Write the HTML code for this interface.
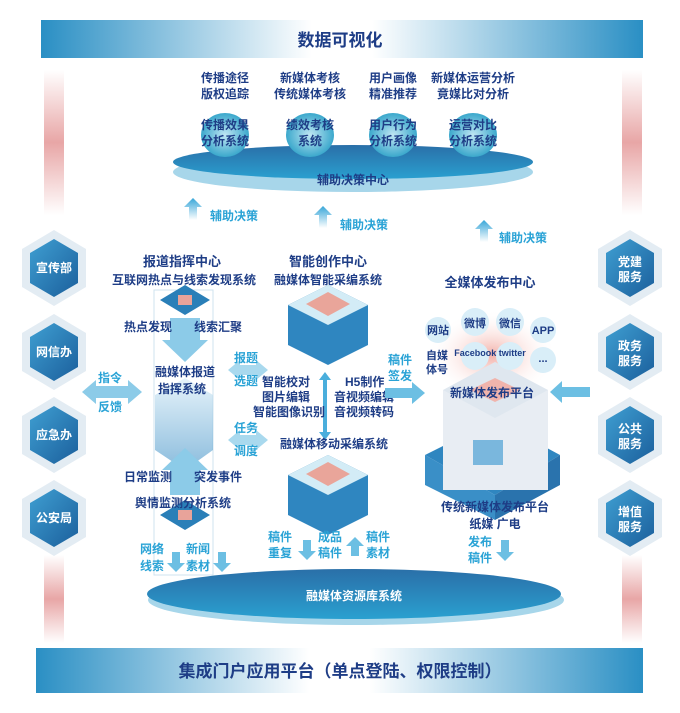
<!DOCTYPE html>
<html><head><meta charset="utf-8"><style>
html,body{margin:0;padding:0;background:#fff;width:680px;height:713px;overflow:hidden}
svg{display:block}
text{font-family:"Liberation Sans","Noto Sans CJK SC",sans-serif;font-weight:bold}
.d{fill:#1e3d86;font-size:12px}
.c{fill:#2aa3d6;font-size:12px}
.w{fill:#fff;font-size:12px}
</style></head><body>
<svg width="680" height="713" viewBox="0 0 680 713">
<defs>
<linearGradient id="bar" x1="0" x2="1"><stop offset="0" stop-color="#2a8fc4"/><stop offset=".45" stop-color="#fff"/><stop offset=".55" stop-color="#fff"/><stop offset="1" stop-color="#2a8fc4"/></linearGradient>
<linearGradient id="pink" x1="0" y1="0" x2="0" y2="1"><stop offset="0" stop-color="#fff"/><stop offset=".5" stop-color="#e8a6a6"/><stop offset="1" stop-color="#fff"/></linearGradient>
<linearGradient id="hex" x1="0" y1="0" x2="1" y2="1"><stop offset="0" stop-color="#3f9fd2"/><stop offset="1" stop-color="#1b5f9c"/></linearGradient>
<radialGradient id="ball"><stop offset="0" stop-color="#bfe6f3"/><stop offset="1" stop-color="#3ba8cc"/></radialGradient>
<linearGradient id="disk" x1="0" y1="0" x2="0" y2="1"><stop offset="0" stop-color="#2a6fa8"/><stop offset="1" stop-color="#2aa0d0"/></linearGradient>
<linearGradient id="arr" x1="0" y1="1" x2="0" y2="0"><stop offset="0" stop-color="#fff"/><stop offset="1" stop-color="#37a6d8"/></linearGradient>
<linearGradient id="cube" x1="0" y1="0" x2="0" y2="1"><stop offset="0" stop-color="#d7ecf7"/><stop offset="1" stop-color="#3c8fc6"/></linearGradient>
<radialGradient id="glow"><stop offset="0" stop-color="#f3b0a8"/><stop offset="1" stop-color="#fff" stop-opacity="0"/></radialGradient>
</defs>
<!-- bars -->
<rect x="41" y="20" width="602" height="38" fill="url(#bar)"/>
<text x="340" y="46" text-anchor="middle" style="font-size:17px;fill:#1e3d86">数据可视化</text>
<rect x="36" y="648" width="607" height="45" fill="url(#bar)"/>
<text x="340" y="677" text-anchor="middle" style="font-size:17px;fill:#1e3d86">集成门户应用平台（单点登陆、权限控制）</text>
<rect x="44" y="70" width="20" height="145" fill="url(#pink)"/>
<rect x="44" y="555" width="20" height="88" fill="url(#pink)"/>
<rect x="622" y="70" width="20" height="145" fill="url(#pink)"/>
<rect x="622" y="555" width="20" height="88" fill="url(#pink)"/>
<!-- hexagons -->
<g id="hexes">
<g transform="translate(54,268)"><polygon points="0,-38 32,-19 32,19 0,38 -32,19 -32,-19" fill="#e3ecf3"/><polygon points="0,-29 24,-15 24,15 0,29 -24,15 -24,-15" fill="url(#hex)"/><text class="w" y="4" text-anchor="middle">宣传部</text></g>
<g transform="translate(54,352)"><polygon points="0,-38 32,-19 32,19 0,38 -32,19 -32,-19" fill="#e3ecf3"/><polygon points="0,-29 24,-15 24,15 0,29 -24,15 -24,-15" fill="url(#hex)"/><text class="w" y="4" text-anchor="middle">网信办</text></g>
<g transform="translate(54,435)"><polygon points="0,-38 32,-19 32,19 0,38 -32,19 -32,-19" fill="#e3ecf3"/><polygon points="0,-29 24,-15 24,15 0,29 -24,15 -24,-15" fill="url(#hex)"/><text class="w" y="4" text-anchor="middle">应急办</text></g>
<g transform="translate(54,518)"><polygon points="0,-38 32,-19 32,19 0,38 -32,19 -32,-19" fill="#e3ecf3"/><polygon points="0,-29 24,-15 24,15 0,29 -24,15 -24,-15" fill="url(#hex)"/><text class="w" y="4" text-anchor="middle">公安局</text></g>
<g transform="translate(630,268)"><polygon points="0,-38 32,-19 32,19 0,38 -32,19 -32,-19" fill="#e3ecf3"/><polygon points="0,-29 24,-15 24,15 0,29 -24,15 -24,-15" fill="url(#hex)"/><text class="w" y="-2" text-anchor="middle">党建</text><text class="w" y="13" text-anchor="middle">服务</text></g>
<g transform="translate(630,352)"><polygon points="0,-38 32,-19 32,19 0,38 -32,19 -32,-19" fill="#e3ecf3"/><polygon points="0,-29 24,-15 24,15 0,29 -24,15 -24,-15" fill="url(#hex)"/><text class="w" y="-2" text-anchor="middle">政务</text><text class="w" y="13" text-anchor="middle">服务</text></g>
<g transform="translate(630,435)"><polygon points="0,-38 32,-19 32,19 0,38 -32,19 -32,-19" fill="#e3ecf3"/><polygon points="0,-29 24,-15 24,15 0,29 -24,15 -24,-15" fill="url(#hex)"/><text class="w" y="-2" text-anchor="middle">公共</text><text class="w" y="13" text-anchor="middle">服务</text></g>
<g transform="translate(630,518)"><polygon points="0,-38 32,-19 32,19 0,38 -32,19 -32,-19" fill="#e3ecf3"/><polygon points="0,-29 24,-15 24,15 0,29 -24,15 -24,-15" fill="url(#hex)"/><text class="w" y="-2" text-anchor="middle">增值</text><text class="w" y="13" text-anchor="middle">服务</text></g>
</g>
<!-- top text -->
<g class="d" text-anchor="middle">
<text class="d" x="225" y="82">传播途径</text><text class="d" x="225" y="98">版权追踪</text>
<text class="d" x="310" y="82">新媒体考核</text><text class="d" x="310" y="98">传统媒体考核</text>
<text class="d" x="393" y="82">用户画像</text><text class="d" x="393" y="98">精准推荐</text>
<text class="d" x="473" y="82">新媒体运营分析</text><text class="d" x="473" y="98">竟媒比对分析</text>
</g>
<ellipse cx="353" cy="172" rx="180" ry="20" fill="#a7d6ea"/>
<ellipse cx="353" cy="162" rx="180" ry="17" fill="url(#disk)"/>
<ellipse cx="225" cy="135" rx="24" ry="22" fill="url(#ball)"/>
<ellipse cx="310" cy="135" rx="24" ry="22" fill="url(#ball)"/>
<ellipse cx="393" cy="135" rx="24" ry="22" fill="url(#ball)"/>
<ellipse cx="473" cy="135" rx="24" ry="22" fill="url(#ball)"/>
<g text-anchor="middle">
<text class="d" x="225" y="129">传播效果</text><text class="d" x="225" y="145">分析系统</text>
<text class="d" x="310" y="129">绩效考核</text><text class="d" x="310" y="145">系统</text>
<text class="d" x="393" y="129">用户行为</text><text class="d" x="393" y="145">分析系统</text>
<text class="d" x="473" y="129">运营对比</text><text class="d" x="473" y="145">分析系统</text>
<text class="d" x="353" y="184">辅助决策中心</text>
</g>
<!-- up arrows -->
<polygon points="193,198 202,207 197,207 197,220 189,220 189,207 184,207" fill="url(#arr)"/><text class="c" x="210" y="220">辅助决策</text>
<polygon points="323,206 332,215 327,215 327,228 319,228 319,215 314,215" fill="url(#arr)"/><text class="c" x="340" y="229">辅助决策</text>
<polygon points="484,220 493,229 488,229 488,242 480,242 480,229 475,229" fill="url(#arr)"/><text class="c" x="499" y="242">辅助决策</text>
<!-- middle headings -->
<g text-anchor="middle">
<text class="d" x="182" y="266" style="font-size:13px">报道指挥中心</text>
<text class="d" x="184" y="284">互联网热点与线索发现系统</text>
<text class="d" x="328" y="266" style="font-size:13px">智能创作中心</text>
<text class="d" x="328" y="284">融媒体智能采编系统</text>
<text class="d" x="490" y="287" style="font-size:13px">全媒体发布中心</text>
</g>
<!-- left column -->
<rect x="154" y="290" width="59" height="285" fill="none" stroke="#cfe3ef"/>
<polygon points="185,285 210,300 185,315 160,300" fill="#2a7fb8"/><rect x="178" y="295" width="14" height="10" fill="#e8a39a" transform="rotate(0)"/>
<polygon points="185,500 210,515 185,530 160,515" fill="#2a7fb8"/><rect x="178" y="510" width="14" height="10" fill="#e8a39a"/>
<polygon points="170,318 200,318 200,340 208,340 185,362 162,340 170,340" fill="#8ccbe8"/>
<polygon points="155,395 185,378 213,395 213,450 185,470 155,450" fill="url(#cube)" opacity=".6"/>
<polygon points="185,448 208,470 200,470 200,495 170,495 170,470 162,470" fill="#8ccbe8"/>
<text class="d" x="148" y="331" text-anchor="middle">热点发现</text><text class="d" x="218" y="331" text-anchor="middle">线索汇聚</text>
<text class="d" x="185" y="376" text-anchor="middle">融媒体报道</text><text class="d" x="182" y="393" text-anchor="middle">指挥系统</text>
<text class="d" x="148" y="481" text-anchor="middle">日常监测</text><text class="d" x="218" y="481" text-anchor="middle">突发事件</text>
<text class="d" x="183" y="507" text-anchor="middle">舆情监测分析系统</text>
<!-- lr arrows -->
<polygon points="82,392 96,380 96,386 128,386 128,380 142,392 128,404 128,398 96,398 96,404" fill="#8ccbe8"/>
<text class="c" x="110" y="382" text-anchor="middle">指令</text><text class="c" x="110" y="411" text-anchor="middle">反馈</text>
<polygon points="228,370 240,360 240,365 256,365 256,360 268,370 256,380 256,375 240,375 240,380" fill="#a9d9ee"/>
<text class="c" x="246" y="362" text-anchor="middle">报题</text><text class="c" x="246" y="385" text-anchor="middle">选题</text>
<polygon points="228,440 240,430 240,435 256,435 256,430 268,440 256,450 256,445 240,445 240,450" fill="#a9d9ee"/>
<text class="c" x="246" y="432" text-anchor="middle">任务</text><text class="c" x="246" y="455" text-anchor="middle">调度</text>
<!-- center cubes -->
<polygon points="328,285 368,305 368,345 328,365 288,345 288,305" fill="#2f86c0"/>
<polygon points="328,285 368,305 328,325 288,305" fill="#d3ecf6"/>
<polygon points="328,292 350,304 328,316 306,304" fill="#e9a59a"/>
<polygon points="328,455 368,475 368,515 328,535 288,515 288,475" fill="#2f86c0"/>
<polygon points="328,455 368,475 328,495 288,475" fill="#d3ecf6"/>
<polygon points="328,462 350,474 328,486 306,474" fill="#e9a59a"/>
<polygon points="325,372 331,380 327,380 327,432 331,432 325,440 319,432 323,432 323,380 319,380" fill="#4aaedc"/>
<g class="d">
<text class="d" x="262" y="386">智能校对</text><text class="d" x="262" y="401">图片编辑</text><text class="d" x="253" y="416">智能图像识别</text>
<text class="d" x="345" y="386">H5制作</text><text class="d" x="334" y="401">音视频编辑</text><text class="d" x="334" y="416">音视频转码</text>
<text class="d" x="280" y="448">融媒体移动采编系统</text>
</g>
<text class="c" x="400" y="364" text-anchor="middle">稿件</text><text class="c" x="400" y="380" text-anchor="middle">签发</text>
<polygon points="385,388 412,388 412,382 425,393 412,404 412,398 385,398" fill="#6cbfe3"/>
<!-- right platform -->
<ellipse cx="492" cy="355" rx="65" ry="45" fill="url(#glow)"/>
<polygon points="425,455 495,420 560,455 495,495" fill="#2f86c0"/>
<polygon points="425,455 495,495 495,520 425,485" fill="#3a8fc7"/>
<polygon points="560,455 495,495 495,520 560,485" fill="#2a73ad"/>
<rect x="443" y="390" width="105" height="100" fill="#e8edf3"/>
<polygon points="443,390 495,362 548,390 495,418" fill="#dfe7ef"/>
<polygon points="470,390 495,378 520,390 495,402" fill="#f0b4ac"/>
<rect x="473" y="440" width="30" height="25" fill="#7ab7dd"/>
<g fill="#d9eef8">
<circle cx="438" cy="330" r="13"/><circle cx="475" cy="322" r="14"/><circle cx="510" cy="322" r="14"/><circle cx="543" cy="330" r="13"/>
<circle cx="475" cy="356" r="14"/><circle cx="510" cy="356" r="14"/><circle cx="543" cy="360" r="13"/>
</g>
<g text-anchor="middle">
<text class="d" x="438" y="334" style="font-size:11px">网站</text><text class="d" x="475" y="327" style="font-size:11px">微博</text>
<text class="d" x="510" y="327" style="font-size:11px">微信</text><text class="d" x="543" y="334" style="font-size:11px">APP</text>
<text class="d" x="437" y="359" style="font-size:11px">自媒</text><text class="d" x="437" y="373" style="font-size:11px">体号</text>
<text class="d" x="490" y="356" style="font-size:9px">Facebook twitter</text><text class="d" x="543" y="362" style="font-size:11px">...</text>
<text class="d" x="492" y="397">新媒体发布平台</text>
<text class="d" x="495" y="511">传统新媒体发布平台</text>
<text class="d" x="495" y="528">纸媒  广电</text>
</g>
<polygon points="590,387 562,387 562,381 550,392 562,403 562,397 590,397" fill="#6cbfe3"/>
<text class="c" x="480" y="546" text-anchor="middle">发布</text><text class="c" x="480" y="562" text-anchor="middle">稿件</text>
<polygon points="501,540 509,540 509,552 514,552 505,561 496,552 501,552" fill="#6cbfe3"/>
<!-- bottom arrows -->
<g text-anchor="middle">
<text class="c" x="152" y="553">网络</text><text class="c" x="152" y="570">线索</text>
<text class="c" x="198" y="553">新闻</text><text class="c" x="198" y="570">素材</text>
<text class="c" x="280" y="541">稿件</text><text class="c" x="280" y="557">重复</text>
<text class="c" x="330" y="541">成品</text><text class="c" x="330" y="557">稿件</text>
<text class="c" x="378" y="541">稿件</text><text class="c" x="378" y="557">素材</text>
</g>
<g fill="#6cbfe3">
<polygon points="172,552 180,552 180,563 185,563 176,572 167,563 172,563"/>
<polygon points="218,552 226,552 226,563 231,563 222,572 213,563 218,563"/>
<polygon points="303,540 311,540 311,551 316,551 307,560 298,551 303,551"/>
<polygon points="351,556 359,556 359,546 364,546 355,537 346,546 351,546"/>
</g>
<ellipse cx="356" cy="600" rx="208" ry="25" fill="#a7d6ea"/>
<ellipse cx="354" cy="594" rx="207" ry="25" fill="url(#disk)"/>
<text class="w" x="354" y="600" text-anchor="middle">融媒体资源库系统</text>
</svg>
</body></html>
